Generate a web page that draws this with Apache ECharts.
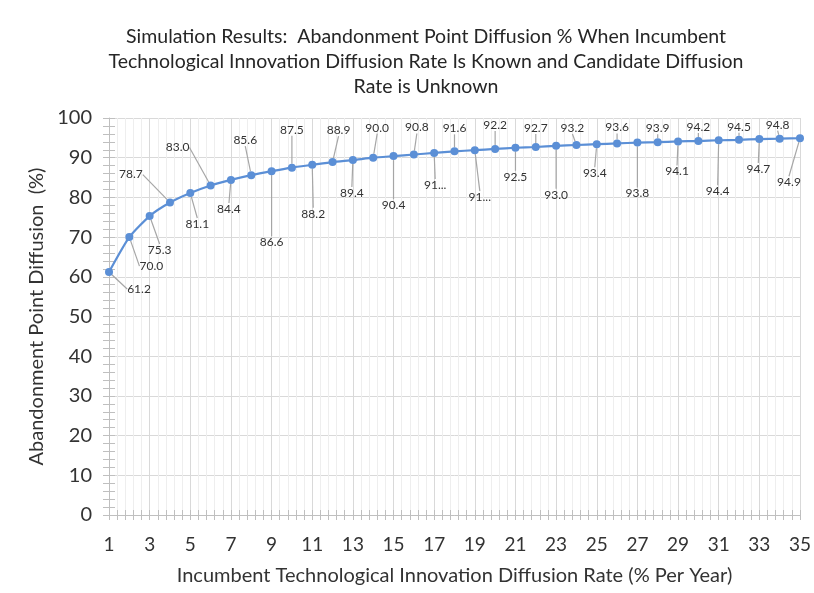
<!DOCTYPE html>
<html>
<head>
<meta charset="utf-8">
<script src="https://cdn.jsdelivr.net/npm/echarts@6/dist/echarts.min.js"></script>
<style>
  html, body { margin: 0; padding: 0; background: #fff; }
  #main { width: 814px; height: 593px; }
</style>
</head>
<body>
<div id="main"></div>
<script>
// data
var rates = [1, 2, 3, 4, 5, 6, 7, 8, 9, 10, 11, 12, 13, 14, 15, 16, 17, 18,
  19, 20, 21, 22, 23, 24, 25, 26, 27, 28, 29, 30, 31, 32, 33, 34, 35];
var diffusion = [61.2, 70.0, 75.3, 78.7, 81.1, 83.0, 84.4, 85.6, 86.6, 87.5, 88.2, 88.9,
  89.4, 90.0, 90.4, 90.8, 91.2, 91.6, 91.9, 92.2, 92.5, 92.7, 93.0, 93.2, 93.4, 93.6,
  93.8, 93.9, 94.1, 94.2, 94.4, 94.5, 94.7, 94.8, 94.9];
// labels that Excel cut short ("91...")
var truncatedRates = [17, 19];

// where each data label sits, relative to its point (px)
var labelOffsets = [
  [30, 17], [22, 29], [10, 34], [-39, -28], [7, 31], [-33, -38], [-2, 29], [-6, -35],
  [0, 71], [0, -38], [1, 49], [6, -32], [-1, 33], [4, -30], [0, 49], [3, -27],
  [1, 32], [0, -23], [5, 47], [0, -24], [0, 29], [0, -19], [0, 49], [-4, -17],
  [-2, 29], [0, -16], [0, 51], [0, -14], [-1, 30], [0, -14], [-1, 51], [0, -13],
  [-1, 30], [-2, -14], [-11, 44]
];

var font = 'Lato, "Open Sans", sans-serif';
var txt = '#333333';

var points = [];
for (var i = 0; i < rates.length; i++) {
  points.push([rates[i], diffusion[i]]);
}

var myChart = echarts.init(document.getElementById('main'));

var option = {
  backgroundColor: '#fff',
  animation: false,
  title: {
    text: 'Simulation Results:  Abandonment Point Diffusion % When Incumbent\nTechnological Innovation Diffusion Rate Is Known and Candidate Diffusion\nRate is Unknown',
    left: 421,
    top: 19,
    textAlign: 'center',
    textStyle: {
      fontFamily: font,
      fontSize: 19.5,
      fontWeight: 'normal',
      color: '#262626',
      lineHeight: 25
    }
  },
  grid: {
    left: 109,
    right: 12,
    top: 118,
    bottom: 78
  },
  xAxis: [{
    type: 'value',
    min: 1,
    max: 35,
    interval: 2,
    name: 'Incumbent Technological Innovation Diffusion Rate (% Per Year)',
    nameLocation: 'middle',
    nameGap: 51,
    nameTextStyle: { fontFamily: font, fontSize: 20, color: txt },
    axisLine: { lineStyle: { color: '#bfbfbf' } },
    axisTick: { show: true, length: 5, lineStyle: { color: '#bfbfbf' } },
    minorTick: { show: true, splitNumber: 5, length: 5, lineStyle: { color: '#bfbfbf' } },
    splitLine: { show: true, lineStyle: { color: '#d9d9d9' } },
    minorSplitLine: { show: true, lineStyle: { color: '#eeeeee' } },
    axisLabel: { margin: 20, fontFamily: font, fontSize: 19, color: txt }
  }, {
    // second copy so the ticks cross the axis line like Excel does
    type: 'value',
    position: 'bottom',
    min: 1,
    max: 35,
    interval: 2,
    axisLine: { show: false },
    axisTick: { show: true, inside: true, length: 5, lineStyle: { color: '#bfbfbf' } },
    minorTick: { show: true, splitNumber: 5, length: 5, lineStyle: { color: '#bfbfbf' } },
    splitLine: { show: false },
    axisLabel: { show: false }
  }],
  yAxis: [{
    type: 'value',
    min: 0,
    max: 100,
    interval: 10,
    name: 'Abandonment Point Diffusion  (%)',
    nameLocation: 'middle',
    nameGap: 56,
    nameTextStyle: { fontFamily: font, fontSize: 20, color: txt },
    axisLine: { show: true, lineStyle: { color: '#bfbfbf' } },
    axisTick: { show: true, length: 6, lineStyle: { color: '#bfbfbf' } },
    minorTick: { show: true, splitNumber: 5, length: 6, lineStyle: { color: '#bfbfbf' } },
    splitLine: { show: true, lineStyle: { color: '#d9d9d9' } },
    axisLabel: { margin: 17, fontFamily: font, fontSize: 20, color: txt }
  }, {
    type: 'value',
    position: 'left',
    min: 0,
    max: 100,
    interval: 10,
    axisLine: { show: false },
    axisTick: { show: true, inside: true, length: 6, lineStyle: { color: '#bfbfbf' } },
    minorTick: { show: true, splitNumber: 5, length: 6, lineStyle: { color: '#bfbfbf' } },
    splitLine: { show: false },
    axisLabel: { show: false }
  }],
  series: [{
    type: 'line',
    data: points,
    smooth: 0.2,
    symbol: 'circle',
    symbolSize: 8,
    color: '#5b8fd6',
    lineStyle: { width: 2.2, color: '#5b8fd6' },
    itemStyle: { color: '#5b8fd6' },
    label: {
      show: true,
      position: 'inside',
      fontFamily: font,
      fontSize: 12,
      color: txt,
      formatter: function (p) {
        var v = p.value[1].toFixed(1);
        if (truncatedRates.indexOf(p.value[0]) >= 0) {
          return v.slice(0, 2) + '...';
        }
        return v;
      }
    },
    labelLine: {
      show: true,
      lineStyle: { color: '#a6a6a6', width: 1.2 }
    },
    labelLayout: function (params) {
      var off = labelOffsets[params.dataIndex];
      return { dx: off[0], dy: off[1] };
    }
  }]
};

myChart.setOption(option);
</script>
</body>
</html>
